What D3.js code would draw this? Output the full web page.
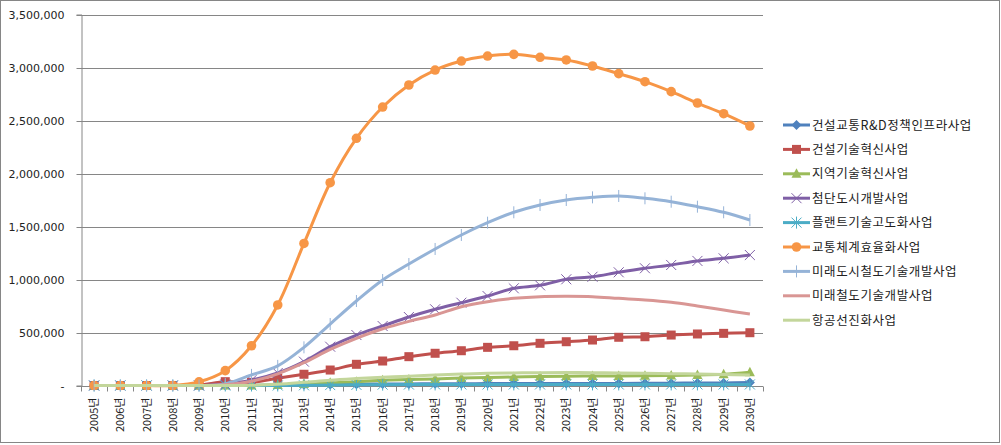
<!DOCTYPE html>
<html lang="ko">
<head>
<meta charset="UTF-8">
<title>사업별 추이</title>
<script src="https://d3js.org/d3.v7.min.js"></script>
<style>
  body { margin: 0; background: #fff; }
  svg { display: block; }
  .tick-label { font: 11px "DejaVu Sans", sans-serif; fill: #222; }
  .x-label { font: 11px "Noto Sans CJK KR", sans-serif; fill: #222; }
  .legend text { font: 12.5px "Noto Sans CJK KR", sans-serif; fill: #222; letter-spacing: 0.6px; }
  .grid line { stroke: #868686; stroke-width: 1; }
</style>
</head>
<body>
<svg></svg>
<script>
  const width = 1001, height = 445;

  // categories
  const years = d3.range(2005, 2031).map(y => y + "년");
  const yTicks = [0, 500000, 1000000, 1500000, 2000000, 2500000, 3000000, 3500000];

  // series names
  const names = [
    "건설교통R&D정책인프라사업",
    "건설기술혁신사업",
    "지역기술혁신사업",
    "첨단도시개발사업",
    "플랜트기술고도화사업",
    "교통체계효율화사업",
    "미래도시철도기술개발사업",
    "미래철도기술개발사업",
    "항공선진화사업"
  ];

  // values, 2005..2030
  const rndPolicy   = [0, 0, 0, 0, 0, 0, 2000, 5000, 8000, 10000, 12000, 14000, 15000, 16000, 17000, 18000, 18000, 19000, 19000, 20000, 20000, 21000, 22000, 23000, 24000, 28000];
  const constTech   = [0, 0, 0, 0, 5000, 36000, 30000, 68000, 106000, 146000, 200000, 231000, 272000, 304000, 328000, 360000, 375000, 398000, 413000, 429000, 455000, 460000, 476000, 486000, 492000, 498000];
  const regionTech  = [0, 0, 0, 0, 0, 0, 0, 5000, 15000, 25000, 35000, 50000, 56000, 62000, 70000, 75000, 80000, 85000, 88000, 90000, 90000, 92000, 95000, 100000, 105000, 125000];
  const urbanDev    = [0, 0, 0, 0, 0, 10000, 50000, 118000, 225000, 366000, 476000, 561000, 646000, 719000, 781000, 844000, 917000, 945000, 1002000, 1026000, 1068000, 1106000, 1137000, 1175000, 1200000, 1231000];
  const plantTech   = [0, 0, 0, 0, 0, 0, 0, 0, 2000, 4000, 6000, 8000, 9000, 10000, 10000, 10000, 10000, 10000, 10000, 10000, 10000, 10000, 10000, 10000, 10000, 10000];
  const traffic     = [0, 0, 0, 0, 35000, 140000, 375000, 760000, 1340000, 1913000, 2332000, 2627000, 2835000, 2976000, 3061000, 3108000, 3124000, 3096000, 3071000, 3014000, 2942000, 2866000, 2772000, 2665000, 2564000, 2448000];
  const urbanRail   = [0, 0, 0, 0, 0, 15000, 100000, 185000, 360000, 580000, 797000, 995000, 1146000, 1288000, 1420000, 1536000, 1634000, 1703000, 1750000, 1775000, 1788000, 1766000, 1734000, 1687000, 1634000, 1561000];
  const railTech    = [0, 0, 0, 0, 0, 8000, 40000, 110000, 215000, 340000, 445000, 535000, 605000, 665000, 743000, 791000, 822000, 838000, 841000, 838000, 822000, 807000, 785000, 750000, 712000, 674000];
  const aviation    = [0, 0, 0, 0, 0, 0, 2000, 12000, 30000, 50000, 65000, 78000, 88000, 99000, 108000, 115000, 119000, 121000, 122000, 121000, 119000, 116000, 112000, 108000, 104000, 100000];

  const seriesValues = [rndPolicy, constTech, regionTech, urbanDev, plantTech, traffic, urbanRail, railTech, aviation];
  const colors = ["#4F81BD", "#C0504D", "#9BBB59", "#7F5FA6", "#4BACC6", "#F79646", "#95B3D7", "#D99694", "#C3D69B"];
  const markers = ["diamond", "square", "triangle", "x", "star", "circle", "plus", null, null];

  const svg = d3.select("svg").attr("width", width).attr("height", height);

  // outer chart border
  svg.append("rect")
    .attr("x", 0.5).attr("y", 0.5)
    .attr("width", width - 2).attr("height", 442)
    .attr("fill", "#fff").attr("stroke", "#868686");

  const plot = { left: 81, right: 763, top: 14.5, bottom: 385.5 };

  const x = d3.scaleBand().domain(years).range([plot.left, plot.right]);
  const y = d3.scaleLinear().domain([0, 3500000]).range([plot.bottom, plot.top]);
  const cx = d => x(d) + x.bandwidth() / 2;

  // gridlines
  svg.append("g").attr("class", "grid")
    .selectAll("line")
    .data(yTicks.slice(1))
    .join("line")
    .attr("x1", plot.left).attr("x2", plot.right)
    .attr("y1", d => Math.round(y(d)) + 0.5).attr("y2", d => Math.round(y(d)) + 0.5);

  // y axis
  const yAxis = svg.append("g")
    .attr("transform", `translate(${plot.left + 0.5},0)`)
    .call(d3.axisLeft(y).tickValues(yTicks).tickSize(5).tickPadding(12)
      .tickFormat(d => d === 0 ? "-" : d3.format(",")(d)));
  yAxis.select(".domain").attr("stroke", "#868686");
  yAxis.selectAll(".tick line").attr("stroke", "#868686");
  yAxis.selectAll(".tick").attr("transform", d => `translate(0,${Math.round(y(d)) + 0.5})`);
  yAxis.selectAll("text").attr("class", "tick-label").attr("font-size", null).attr("font-family", null);

  // x axis
  const xAxisG = svg.append("g").attr("transform", `translate(0,${Math.round(plot.bottom) + 0.5})`);
  xAxisG.append("line")
    .attr("x1", plot.left).attr("x2", plot.right)
    .attr("stroke", "#868686");
  xAxisG.selectAll("line.tk")
    .data(years.concat(["end"]))
    .join("line").attr("class", "tk")
    .attr("x1", (d, i) => Math.round(plot.left + i * x.bandwidth()) + 0.5)
    .attr("x2", (d, i) => Math.round(plot.left + i * x.bandwidth()) + 0.5)
    .attr("y1", 0).attr("y2", 5)
    .attr("stroke", "#868686");
  xAxisG.selectAll("text")
    .data(years)
    .join("text")
    .attr("class", "x-label")
    .attr("text-anchor", "end")
    .attr("transform", d => `translate(${cx(d) + 4},${11}) rotate(-90)`)
    .text(d => d);

  const line = d3.line()
    .x((d, i) => cx(years[i]))
    .y(d => y(d))
    .curve(d3.curveCatmullRom.alpha(0.5));

  function drawMarker(g, type, color, px, py) {
    if (!type) return;
    if (type === "circle") {
      g.append("circle").attr("cx", px).attr("cy", py).attr("r", 4.8).attr("fill", color);
    } else if (type === "square") {
      g.append("rect").attr("x", px - 4.5).attr("y", py - 4.5).attr("width", 9).attr("height", 9).attr("fill", color);
    } else if (type === "diamond") {
      g.append("path").attr("d", `M${px},${py - 5}L${px + 5},${py}L${px},${py + 5}L${px - 5},${py}Z`).attr("fill", color);
    } else if (type === "triangle") {
      g.append("path").attr("d", `M${px},${py - 5.5}L${px + 5},${py + 4}L${px - 5},${py + 4}Z`).attr("fill", color);
    } else if (type === "x") {
      g.append("path").attr("d", `M${px - 5},${py - 5}L${px + 5},${py + 5}M${px - 5},${py + 5}L${px + 5},${py - 5}`)
        .attr("stroke", color).attr("stroke-width", 1);
    } else if (type === "star") {
      g.append("path").attr("d", `M${px - 5},${py - 5}L${px + 5},${py + 5}M${px - 5},${py + 5}L${px + 5},${py - 5}M${px},${py - 6}L${px},${py + 6}`)
        .attr("stroke", color).attr("stroke-width", 1);
    } else if (type === "plus") {
      g.append("path").attr("d", `M${px},${py - 6}L${px},${py + 6}`)
        .attr("stroke", color).attr("stroke-width", 1);
    }
  }

  // series
  seriesValues.forEach((vals, s) => {
    const g = svg.append("g");
    g.append("path")
      .attr("d", line(vals))
      .attr("fill", "none")
      .attr("stroke", colors[s])
      .attr("stroke-width", 3)
      .attr("stroke-linejoin", "round");
    vals.forEach((v, i) => drawMarker(g, markers[s], colors[s], cx(years[i]), y(v)));
  });

  // legend
  const legend = svg.append("g").attr("class", "legend");
  names.forEach((name, i) => {
    const ly = 125 + i * 24.4;
    const g = legend.append("g");
    g.append("line")
      .attr("x1", 783).attr("x2", 810)
      .attr("y1", ly).attr("y2", ly)
      .attr("stroke", colors[i]).attr("stroke-width", 3);
    drawMarker(g, markers[i], colors[i], 796.5, ly);
    g.append("text")
      .attr("x", 812).attr("y", ly + 4.5)
      .text(name);
  });
</script>
</body>
</html>
